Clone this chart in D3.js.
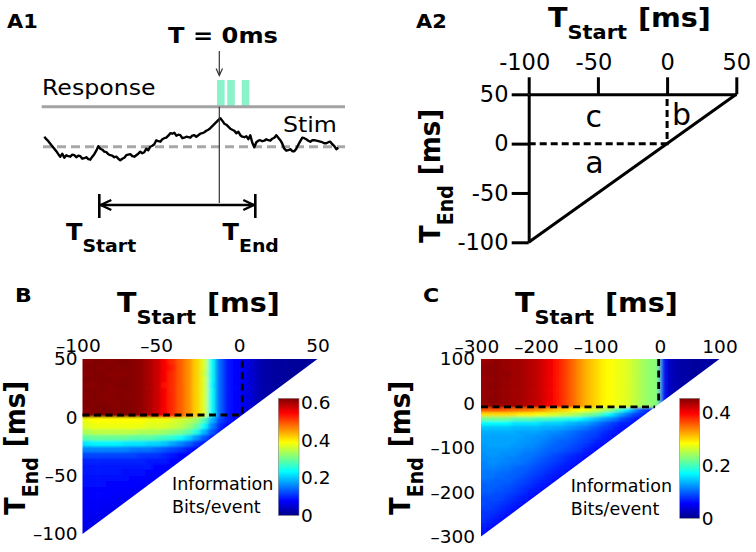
<!DOCTYPE html>
<html><head><meta charset="utf-8">
<script src="https://cdn.jsdelivr.net/npm/d3@7"></script>
<style>body{margin:0;background:#fff}svg{display:block}</style>
</head><body><svg id="fig" width="756" height="552"></svg>
<script>
// ---------------- DATA ----------------
// A1: stimulus trace (sampled every 2 ms starting at -175 ms), spikes, window
const stimStart = -175, stimStep = 2;
const stimValues = [1.0,.75,.55,.3,.05,-.2,-.45,-.75,-1.0,-.7,-1.1,-.85,-.95,-1.0,-.8,-.85,-1.05,-.9,-.95,-1.2,
 -1.15,-1.05,-1.25,-1.3,-1.0,-.75,-.4,.05,-.2,-.3,-.5,-.55,-.75,-.85,-.9,-1.05,-1.0,-1.2,-1.35,-1.2,
 -1.1,-.85,-.8,-.75,-.95,-1.0,-.85,-.7,-.5,-.65,-.55,-.2,-.35,0,.1,.25,.65,.55,.5,.75,
 .85,.9,1.1,1.35,1.3,1.4,1.1,1.2,1.15,.85,.9,1.0,.95,.9,1.1,1.15,1.0,1.15,1.3,1.35,
 1.45,1.6,1.7,1.85,2.05,2.25,2.45,2.65,2.85,2.6,2.3,2.2,2.0,1.8,1.7,1.6,1.35,1.5,1.15,1.0,
 .95,1.05,.75,1.15,.4,-.05,.45,.6,.65,.55,.6,.75,.65,.6,.8,.9,1.15,.9,.65,.3,
 -.2,-.4,-.35,-.25,-.45,-.45,-.2,.2,.55,.9,.85,.75,.6,.5,.65,.65,.6,.55,.5,.45,
 .35,.35,.45,.5,.25,.05,-.25,-.1];
const spikeTimes = [1.5, 11.7, 26.2];
const windowStartEnd = [-120, 36];

// A2 / B / C tick labels
const a2Ticks = [-100, -50, 0, 50];
const bTicks = [-100, -50, 0, 50];
const cTicks = [-300, -200, -100, 0, 100];
const bCbarTicks = [0, 0.2, 0.4, 0.6];
const cCbarTicks = [0, 0.2, 0.4];
const bCbarMax = 0.625, cCbarMax = 0.455;
const bDash = 2, cDashEnd = -8, cDashStart = -2;

// B: information (bits/event); columns = T_start cell centres, rows = T_end cell centres
const bStarts = [-97.5,-92.5,-87.5,-82.5,-77.5,-72.5,-67.5,-62.5,-57.5,-52.5,-47.5,-42.5,-37.5,-32.5,-27.5,-22.5,-17.5,-12.5,-7.5,-2.5,2.5,7.5,12.5,17.5,22.5,27.5,32.5,37.5,42.5,47.5];
const bEnds = [47.5,42.5,37.5,32.5,27.5,22.5,17.5,12.5,7.5,2.5,-2.5,-7.5,-12.5,-17.5,-22.5,-27.5,-32.5,-37.5,-42.5,-47.5,-52.5,-57.5,-62.5,-67.5,-72.5,-77.5,-82.5,-87.5,-92.5,-97.5];
const bInfo = [
[.62,.625,.625,.62,.625,.625,.62,.615,.60,.58,.55,.52,.49,.46,.42,.37,.24,.14,.09,.08,.07,.05,.03,.02,.015,.015,.01,.015,.01,.015],
[.625,.625,.62,.625,.62,.625,.62,.615,.60,.58,.55,.53,.49,.46,.42,.37,.24,.14,.09,.08,.07,.05,.03,.02,.015,.015,.015,.01,.015,.015],
[.62,.625,.625,.62,.62,.62,.62,.615,.60,.58,.55,.52,.49,.46,.42,.36,.24,.14,.09,.08,.07,.05,.03,.02,.015,.015,.01,.015,.01],
[.625,.625,.625,.625,.62,.625,.62,.615,.60,.58,.55,.52,.49,.46,.42,.37,.24,.14,.09,.08,.07,.05,.03,.02,.015,.015,.01,.015],
[.62,.62,.625,.62,.625,.625,.62,.615,.60,.58,.54,.52,.49,.46,.42,.37,.23,.14,.09,.08,.07,.05,.03,.02,.015,.015,.01],
[.625,.625,.625,.62,.62,.625,.62,.615,.60,.58,.55,.52,.49,.46,.42,.37,.24,.14,.09,.08,.07,.05,.03,.02,.015,.015],
[.62,.625,.62,.62,.625,.62,.62,.615,.60,.58,.55,.52,.49,.46,.42,.37,.24,.14,.09,.08,.07,.05,.03,.02,.015],
[.625,.625,.625,.62,.62,.625,.62,.615,.60,.58,.55,.52,.49,.46,.42,.37,.24,.14,.09,.08,.07,.05,.03,.02],
[.62,.625,.625,.625,.62,.625,.62,.615,.60,.58,.55,.52,.49,.46,.42,.37,.24,.14,.09,.08,.07,.05,.03],
[.62,.62,.625,.62,.62,.62,.62,.61,.60,.58,.55,.52,.49,.46,.42,.37,.24,.14,.09,.08,.07,.05],
[.38,.39,.39,.39,.39,.39,.39,.39,.38,.38,.38,.37,.36,.35,.33,.28,.19,.12,.09,.08,.07],
[.37,.38,.38,.38,.38,.38,.38,.38,.37,.37,.37,.36,.35,.33,.30,.24,.16,.10,.08,.07],
[.34,.35,.35,.35,.35,.35,.35,.34,.34,.34,.33,.32,.31,.29,.25,.19,.13,.09,.07],
[.29,.30,.30,.30,.30,.30,.29,.29,.29,.28,.27,.26,.24,.21,.17,.13,.09,.07],
[.22,.23,.23,.23,.23,.22,.22,.22,.21,.21,.20,.18,.16,.14,.11,.09,.07],
[.16,.16,.16,.16,.16,.16,.15,.15,.15,.14,.13,.12,.11,.09,.08,.07],
[.12,.12,.12,.12,.12,.12,.12,.11,.11,.11,.10,.09,.08,.08,.07],
[.10,.10,.10,.10,.10,.10,.10,.10,.09,.09,.09,.08,.08,.07],
[.09,.09,.09,.09,.09,.09,.09,.09,.09,.08,.08,.08,.07],
[.09,.09,.09,.09,.09,.085,.085,.085,.08,.08,.08,.07],
[.085,.085,.085,.085,.085,.085,.08,.08,.08,.075,.07],
[.085,.085,.085,.08,.08,.08,.08,.075,.075,.07],
[.08,.08,.08,.08,.08,.075,.075,.07,.07],
[.08,.08,.08,.075,.075,.075,.07,.065],
[.075,.075,.075,.075,.07,.07,.065],
[.075,.075,.07,.07,.07,.065],
[.07,.07,.07,.065,.065],
[.07,.065,.065,.06],
[.065,.065,.06],
[.06,.06]
];

// C: information (bits/event), 10 ms cells
const cStarts = [-295,-285,-275,-265,-255,-245,-235,-225,-215,-205,-195,-185,-175,-165,-155,-145,-135,-125,-115,-105,-95,-85,-75,-65,-55,-45,-35,-25,-15,-5,5,15,25,35,45,55,65,75,85,95];
const cEnds = [95,85,75,65,55,45,35,25,15,5,-5,-15,-25,-35,-45,-55,-65,-75,-85,-95,-105,-115,-125,-135,-145,-155,-165,-175,-185,-195,-205,-215,-225,-235,-245,-255,-265,-275,-285,-295];
const cInfo = [
[.44,.445,.45,.445,.445,.44,.44,.435,.43,.425,.415,.405,.395,.38,.365,.35,.335,.32,.31,.30,.29,.285,.28,.275,.27,.26,.25,.24,.235,.23,.07,.03,.02,.015,.015,.01,.01,.015,.01,.01],
[.445,.45,.45,.445,.445,.44,.44,.435,.43,.425,.415,.405,.395,.38,.365,.35,.335,.32,.31,.30,.29,.285,.28,.275,.27,.26,.25,.24,.235,.23,.07,.03,.02,.015,.015,.01,.01,.015,.01,.01],
[.445,.45,.45,.445,.445,.44,.44,.435,.43,.425,.415,.405,.395,.38,.365,.35,.335,.32,.31,.30,.29,.285,.28,.275,.27,.26,.25,.24,.235,.23,.07,.03,.02,.015,.015,.01,.01,.015,.01],
[.445,.45,.45,.445,.45,.44,.44,.435,.43,.425,.415,.405,.395,.38,.365,.35,.335,.32,.31,.30,.29,.285,.28,.275,.27,.26,.25,.24,.235,.23,.07,.03,.02,.015,.015,.01,.01,.015],
[.445,.445,.45,.445,.445,.44,.44,.435,.43,.425,.415,.405,.395,.38,.365,.35,.335,.32,.31,.30,.29,.285,.28,.275,.27,.26,.25,.24,.235,.23,.07,.03,.02,.015,.015,.01,.01],
[.445,.45,.45,.445,.445,.44,.44,.435,.43,.425,.415,.405,.395,.38,.365,.35,.335,.32,.31,.30,.29,.285,.28,.275,.27,.26,.25,.24,.235,.23,.07,.03,.02,.015,.015,.01],
[.445,.45,.45,.445,.445,.44,.44,.435,.43,.425,.415,.405,.395,.38,.365,.35,.335,.32,.31,.30,.29,.285,.28,.275,.27,.26,.25,.24,.235,.23,.07,.03,.02,.015,.015],
[.445,.445,.45,.445,.445,.44,.44,.435,.43,.425,.415,.405,.395,.38,.365,.35,.335,.32,.31,.30,.29,.285,.28,.275,.27,.26,.25,.24,.235,.23,.07,.03,.02,.015],
[.445,.45,.45,.445,.445,.44,.44,.435,.43,.425,.415,.405,.395,.38,.365,.35,.335,.32,.31,.30,.29,.285,.28,.275,.27,.26,.25,.24,.235,.23,.07,.03,.02],
[.445,.45,.45,.445,.445,.44,.44,.435,.43,.425,.415,.405,.395,.38,.365,.35,.335,.32,.31,.30,.29,.285,.28,.275,.27,.26,.25,.24,.235,.23,.07,.035],
[.44,.445,.445,.44,.44,.44,.435,.43,.425,.42,.41,.40,.39,.38,.365,.35,.335,.32,.31,.30,.29,.285,.28,.275,.27,.26,.25,.24,.235,.23,.07],
[.36,.36,.36,.36,.355,.35,.35,.345,.34,.335,.33,.32,.31,.305,.30,.29,.285,.28,.27,.26,.25,.235,.215,.19,.16,.13,.10,.08,.07,.06],
[.30,.30,.30,.30,.30,.30,.29,.29,.29,.28,.28,.27,.27,.26,.26,.25,.24,.23,.22,.21,.19,.17,.15,.13,.11,.09,.08,.07,.06],
[.22,.22,.22,.22,.22,.21,.21,.21,.21,.20,.20,.20,.19,.19,.18,.18,.17,.16,.15,.14,.13,.12,.11,.09,.08,.07,.06,.06],
[.17,.17,.17,.17,.17,.16,.16,.16,.16,.16,.15,.15,.15,.15,.14,.14,.13,.13,.12,.11,.10,.09,.08,.07,.07,.06,.06],
[.145,.145,.145,.145,.145,.14,.14,.14,.14,.14,.135,.135,.13,.13,.125,.12,.115,.11,.10,.095,.085,.08,.07,.065,.06,.055],
[.135,.135,.135,.135,.135,.135,.13,.13,.13,.13,.125,.12,.12,.115,.11,.105,.10,.095,.09,.085,.075,.07,.065,.06,.055],
[.13,.13,.13,.13,.13,.13,.13,.125,.125,.12,.12,.115,.11,.11,.105,.10,.095,.09,.085,.08,.07,.065,.06,.055],
[.13,.13,.13,.13,.13,.13,.125,.125,.12,.12,.115,.11,.105,.10,.10,.095,.09,.085,.08,.07,.065,.06,.055],
[.125,.13,.13,.13,.13,.125,.125,.12,.12,.115,.11,.105,.10,.10,.095,.09,.085,.08,.07,.065,.06,.055],
[.125,.125,.125,.125,.125,.12,.12,.115,.115,.11,.105,.10,.10,.095,.09,.085,.08,.07,.065,.06,.055],
[.12,.125,.125,.12,.12,.12,.115,.11,.11,.105,.10,.095,.09,.085,.08,.075,.07,.065,.06,.055],
[.12,.12,.12,.12,.115,.115,.11,.11,.105,.10,.095,.09,.085,.08,.075,.07,.065,.06,.055],
[.115,.12,.12,.115,.115,.11,.11,.105,.10,.095,.09,.085,.08,.075,.07,.065,.06,.055],
[.115,.115,.115,.11,.11,.105,.10,.10,.095,.09,.085,.08,.075,.07,.065,.06,.055],
[.11,.11,.11,.105,.105,.10,.10,.095,.09,.085,.08,.075,.07,.065,.06,.055],
[.11,.11,.105,.105,.10,.10,.095,.09,.085,.08,.075,.07,.065,.06,.055],
[.105,.105,.10,.10,.10,.095,.09,.085,.08,.075,.07,.065,.06,.055],
[.10,.10,.10,.095,.095,.09,.085,.08,.075,.07,.065,.06,.055],
[.10,.10,.095,.095,.09,.085,.08,.075,.07,.065,.06,.055],
[.095,.095,.09,.09,.085,.08,.075,.07,.065,.06,.055],
[.09,.09,.09,.085,.08,.075,.07,.065,.06,.055],
[.09,.085,.085,.08,.075,.07,.065,.06,.055],
[.085,.085,.08,.075,.07,.065,.06,.055],
[.08,.08,.075,.07,.065,.06,.055],
[.08,.075,.07,.065,.06,.055],
[.075,.07,.065,.06,.055],
[.07,.065,.06,.055],
[.065,.06,.055],
[.06,.055]
];

// ---------------- DRAWING ----------------
const FONT = "DejaVu Sans";
const svg = d3.select("#fig");
const defs = svg.append("defs");

function jet(cmax){
  const stops=[0,0.125,0.375,0.625,0.875,1];
  const cols=["#000088","#0000ff","#00ffff","#ffff00","#ff0000","#800000"];
  return d3.scaleLinear().domain(stops.map(s=>s*cmax)).range(cols).clamp(true);
}
function txt(x,y,str,o={}){
  const t = svg.append("text")
    .attr("transform",`translate(${x},${y}) scale(${o.sx||1},1)`)
    .attr("font-family",FONT).attr("font-size",o.size||20)
    .attr("font-weight",o.weight||"normal").attr("text-anchor",o.anchor||"start")
    .attr("fill",o.fill||"#000");
  if(str!==null) t.text(str);
  return t;
}
function tLabel(x,y,sub,o={}){
  const t = svg.append("text")
    .attr("transform",`translate(${x},${y}) scale(${o.sx||1},1)` + (o.rot?" rotate(-90)":""))
    .attr("font-family",FONT).attr("font-weight","bold").attr("font-size",o.size||26);
  t.append("tspan").text("T");
  t.append("tspan").attr("font-size",o.sub||19).attr("dy",o.dy||12).text(sub);
  if(o.unit){ t.append("tspan").attr("dy",-(o.dy||12)).attr("dx",10).text("[ms]"); }
  return t;
}
const negLabel = d => d<0 ? "\u2013"+(-d) : String(d);

// ======== A1 ========
txt(7,28,"A1",{size:19,weight:"bold",sx:1.1});
const a1x = d3.scaleLinear([-175,125],[44.3,344.3]);
const a1y = d3.scaleLinear([0,1],[146.7,136.7]);
const respY = 106.7;
txt(a1x(3.7),43,"T = 0ms",{size:21,weight:"bold",sx:1.15,anchor:"middle"});
svg.append("line").attr("x1",a1x(0)).attr("x2",a1x(0)).attr("y1",51).attr("y2",75).attr("stroke","#333").attr("stroke-width",1.2);
svg.append("path").attr("d",`M${a1x(0)-3.2},68.5L${a1x(0)},75.5L${a1x(0)+3.2},68.5`).attr("fill","none").attr("stroke","#333").attr("stroke-width",1.2);
txt(42,95,"Response",{size:21.5,sx:1.1});
svg.selectAll("rect.spk").data(spikeTimes).join("rect").attr("class","spk")
  .attr("x",d=>a1x(d)-3.8).attr("width",7.6).attr("y",80).attr("height",26).attr("fill","#8af3c9");
svg.append("line").attr("x1",a1x(-177.6)).attr("x2",a1x(125.7)).attr("y1",respY).attr("y2",respY).attr("stroke","#a3a3a3").attr("stroke-width",3);
svg.append("line").attr("x1",a1x(-176.3)).attr("x2",a1x(125.7)).attr("y1",a1y(0)).attr("y2",a1y(0))
  .attr("stroke","#a8a8a8").attr("stroke-width",3).attr("stroke-dasharray","9,5");
const stimPts = stimValues.map((v,k)=>[stimStart+k*stimStep,v]);
svg.append("path").datum(stimPts).attr("d",d3.line().x(d=>a1x(d[0])).y(d=>a1y(d[1])))
  .attr("fill","none").attr("stroke","#000").attr("stroke-width",2.4).attr("stroke-linejoin","round");
txt(283,131.7,"Stim",{size:21.5,sx:1.1});
svg.append("line").attr("x1",a1x(0)).attr("x2",a1x(0)).attr("y1",respY).attr("y2",203).attr("stroke","#333").attr("stroke-width",1.2);
const wx0 = a1x(windowStartEnd[0]), wx1 = a1x(windowStartEnd[1]), wy = 205;
svg.append("line").attr("x1",wx0).attr("x2",wx1).attr("y1",wy).attr("y2",wy).attr("stroke","#000").attr("stroke-width",2.6);
[wx0,wx1].forEach(x=>svg.append("line").attr("x1",x).attr("x2",x).attr("y1",194).attr("y2",218).attr("stroke","#000").attr("stroke-width",2.6));
svg.append("path").attr("d",`M${wx0+12},200L${wx0+1.5},${wy}L${wx0+12},210`).attr("fill","none").attr("stroke","#000").attr("stroke-width",2.4);
svg.append("path").attr("d",`M${wx1-12},200L${wx1-1.5},${wy}L${wx1-12},210`).attr("fill","none").attr("stroke","#000").attr("stroke-width",2.4);
tLabel(66,240,"Start",{size:23,sub:18,dy:11.5,sx:1.05});
tLabel(222.5,240,"End",{size:23,sub:18,dy:11.5,sx:1.05});

// ======== A2 ========
txt(416,28,"A2",{size:19,weight:"bold",sx:1.1});
tLabel(548,27,"Start",{unit:true,sx:1.1});
tLabel(440,243,"End",{unit:true,sx:1.1,rot:true});
const a2x = d3.scaleLinear([-100,50],[528.7,736.3]);
const a2y = d3.scaleLinear([-100,50],[242.3,94.3]);
function styleAxis(g,size){
  g.selectAll("path,line").attr("stroke","#000").attr("stroke-width",3);
  g.selectAll("text").attr("font-family",FONT).attr("font-size",size).attr("fill","#000");
}
const a2gx = svg.append("g").attr("transform",`translate(0,${a2y(50)})`)
  .call(d3.axisTop(a2x).tickValues(a2Ticks).tickSize(17).tickSizeOuter(0).tickPadding(7.3).tickFormat(d=>String(d)));
styleAxis(a2gx,22.5);
a2gx.selectAll("text").attr("dx",d=>d<0?"-0.2em":0);
const a2gy = svg.append("g").attr("transform",`translate(${a2x(-100)},0)`)
  .call(d3.axisLeft(a2y).tickValues(a2Ticks).tickSize(17).tickSizeOuter(0).tickPadding(3.2).tickFormat(d=>String(d)));
styleAxis(a2gy,22.5);
svg.append("line").attr("x1",a2x(-100)).attr("y1",a2y(-100)).attr("x2",a2x(50)).attr("y2",a2y(50)).attr("stroke","#000").attr("stroke-width",3);
svg.append("path").attr("d",`M${a2x(-100)},${a2y(0)}H${a2x(0)}V${a2y(50)}`).attr("fill","none")
  .attr("stroke","#000").attr("stroke-width",3).attr("stroke-dasharray","7,4");
txt(a2x(-53),a2y(17),"c",{size:30,anchor:"middle"});
txt(a2x(10.5),a2y(19),"b",{size:30,anchor:"middle"});
txt(a2x(-52.5),a2y(-30),"a",{size:30,anchor:"middle"});

// ======== heatmaps ========
function heat(id, starts, ends, grid, step, xS, yS, cmax, lo, hi, blur){
  const color = jet(cmax);
  defs.append("clipPath").attr("id",id).append("path")
    .attr("d",`M${xS(lo)},${yS(hi)}L${xS(hi)},${yS(hi)}L${xS(lo)},${yS(lo)}Z`);
  const flt = defs.append("filter").attr("id",id+"f").attr("x","-10%").attr("y","-10%").attr("width","120%").attr("height","120%");
  flt.append("feGaussianBlur").attr("stdDeviation",blur);
  const cells=[];
  grid.forEach((row,j)=>row.forEach((v,i)=>cells.push({s:starts[i],e:ends[j],v,
     first:i===0,last:i===row.length-1,top:j===0,bottom:j===grid.length-1})));
  const pad = 8;
  svg.append("g").attr("clip-path",`url(#${id})`).append("g").attr("filter",`url(#${id}f)`)
    .selectAll("rect").data(cells).join("rect")
    .attr("x",d=>xS(d.s-step/2)-(d.first?pad:0))
    .attr("y",d=>yS(d.e+step/2)-(d.top?pad:0))
    .attr("width",d=>xS(d.s+step/2)-xS(d.s-step/2)+0.7+(d.first?pad:0)+(d.last?pad*1.5:0))
    .attr("height",d=>yS(d.e-step/2)-yS(d.e+step/2)+0.7+(d.top?pad:0)+(d.bottom||d.first?pad:0))
    .attr("fill",d=>color(d.v));
}
function tickAxes(xS,yS,ticks,yTop,xLeft,padX,padY){
  const gx = svg.append("g").attr("transform",`translate(0,${yTop})`)
    .call(d3.axisTop(xS).tickValues(ticks).tickSize(0).tickPadding(padX).tickFormat(negLabel));
  gx.select(".domain").remove();
  gx.selectAll("text").attr("font-family",FONT).attr("font-size",18.5).attr("fill","#000").attr("dx",d=>d<0?"-0.25em":0);
  const gy = svg.append("g").attr("transform",`translate(${xLeft},0)`)
    .call(d3.axisLeft(yS).tickValues(ticks).tickSize(0).tickPadding(padY).tickFormat(negLabel));
  gy.select(".domain").remove();
  gy.selectAll("text").attr("font-family",FONT).attr("font-size",18.5).attr("fill","#000");
}
function colorbar(id,x,y0,y1,w,cmax,ticks){
  const color = jet(cmax);
  const grad = defs.append("linearGradient").attr("id",id).attr("x1",0).attr("y1",1).attr("x2",0).attr("y2",0);
  for(let k=0;k<=40;k++){ grad.append("stop").attr("offset",k/40).attr("stop-color",color(k/40*cmax)); }
  svg.append("rect").attr("x",x).attr("y",y0).attr("width",w).attr("height",y1-y0)
    .attr("fill",`url(#${id})`).attr("stroke","#888").attr("stroke-width",0.6);
  const s = d3.scaleLinear([0,cmax],[y1,y0]);
  const g = svg.append("g").attr("transform",`translate(${x+w},0)`)
    .call(d3.axisRight(s).tickValues(ticks).tickSize(0).tickPadding(2).tickFormat(d=>d===0?"0":d.toFixed(1)));
  g.select(".domain").remove();
  g.selectAll("text").attr("font-family",FONT).attr("font-size",18.5).attr("fill","#000");
}

// ======== B ========
txt(15,301.7,"B",{size:20,weight:"bold",sx:1.1});
tLabel(117,312,"Start",{unit:true,sx:1.1});
tLabel(25,515,"End",{unit:true,sx:1.1,rot:true});
const bx = d3.scaleLinear([-100,50],[82.5,317.5]);
const by = d3.scaleLinear([-100,50],[534,359]);
heat("clipB",bStarts,bEnds,bInfo,5,bx,by,bCbarMax,-100,50,"2.2 1.3");
svg.append("path").attr("d",`M${bx(-100)},${by(bDash)}H${bx(bDash)}V${by(50)}`).attr("fill","none")
  .attr("stroke","#000").attr("stroke-width",2.8).attr("stroke-dasharray","7,4.5");
tickAxes(bx,by,bTicks,359,82.5,7.5,5);
colorbar("cbB",278.3,398.3,515.5,20.7,bCbarMax,bCbarTicks);
txt(172,490,"Information",{size:17.5});
txt(172,513.3,"Bits/event",{size:17.5});

// ======== C ========
txt(423,301.7,"C",{size:20,weight:"bold",sx:1.1});
tLabel(515,312,"Start",{unit:true,sx:1.1});
tLabel(410,515,"End",{unit:true,sx:1.1,rot:true});
const cx = d3.scaleLinear([-300,100],[481,719.5]);
const cy = d3.scaleLinear([-300,100],[536.5,359]);
heat("clipC",cStarts,cEnds,cInfo,10,cx,cy,cCbarMax,-300,100,"2 1.2");
svg.append("path").attr("d",`M${cx(-300)},${cy(cDashEnd)}H${cx(cDashEnd)}`).attr("fill","none")
  .attr("stroke","#000").attr("stroke-width",2.8).attr("stroke-dasharray","7,4.5");
svg.append("path").attr("d",`M${cx(cDashStart)},${cy(100)}V${cy(cDashStart)}`).attr("fill","none")
  .attr("stroke","#000").attr("stroke-width",2.8).attr("stroke-dasharray","7,4.5");
tickAxes(cx,cy,cTicks,359,481,6.5,6);
colorbar("cbC",679.7,398.3,518.3,20,cCbarMax,cCbarTicks);
txt(570.7,491.7,"Information",{size:17.5});
txt(570.7,515,"Bits/event",{size:17.5});
</script></body></html>
